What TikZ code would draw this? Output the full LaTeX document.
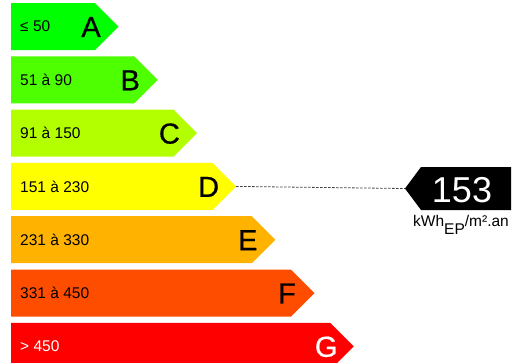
\documentclass[tikz,border=0pt]{standalone}
\usepackage{fontspec}
\setmainfont{Liberation Sans}
\newfontfamily\letterfont{Liberation Sans}[FakeBold=0.6]
\definecolor{cA}{RGB}{0,255,0}
\definecolor{cB}{RGB}{77,255,0}
\definecolor{cC}{RGB}{179,255,0}
\definecolor{cD}{RGB}{255,255,0}
\definecolor{cE}{RGB}{255,179,0}
\definecolor{cF}{RGB}{255,77,0}
\definecolor{cG}{RGB}{255,0,0}
\tikzset{
  rangelbl/.style={anchor=west, inner sep=0pt, font=\fontsize{15.5}{15.5}\selectfont},
  letterlbl/.style={anchor=center, inner sep=0pt, font=\letterfont\fontsize{29}{29}\selectfont},
  valuelbl/.style={anchor=center, inner sep=0pt, text=white, font=\fontsize{36}{36}\selectfont},
  unitlbl/.style={anchor=base west, inner sep=0pt, font=\fontsize{15.5}{15.5}\selectfont},
  leader/.style={draw=black!75, line width=0.8pt, dash pattern=on 2.5pt off 1.5pt}
}
\begin{document}
\begin{tikzpicture}[x=1pt,y=-1pt]
\useasboundingbox (0,0) rectangle (513,362);
\foreach \L/\i/\col/\range/\tc in {A/0/cA/{≤ 50}/black, B/1/cB/{51 à 90}/black, C/2/cC/{91 à 150}/black, D/3/cD/{151 à 230}/black, E/4/cE/{231 à 330}/black, F/5/cF/{331 à 450}/black, G/6/cG/{> 450}/white} {
  \pgfmathsetmacro\t{3+53.3*\i}
  \pgfmathsetmacro\r{95+39.2*\i}
  \fill[\col] (11,\t) -- (\r,\t) -- (\r+23.5,\t+23.5) -- (\r,\t+47) -- (11,\t+47) -- cycle;
  \coordinate (tip\L) at (\r+23.5,\t+23.5);
  \node[rangelbl,text=\tc] (range\L) at (20,\t+23.5) {\range};
  \node[letterlbl,text=\tc] (letter\L) at (\r-4,\t+24) {\L};
}
\fill[black] (405,188.5) -- (421,167) -- (511,167) -- (511,210) -- (421,210) -- cycle;
\coordinate (tipV) at (405,188.5);
\node[valuelbl] (value) at (462,190) {153};
\node[unitlbl] (unit) at (413,226) {kWh\raisebox{-8pt}{EP}/m².an};
\draw[leader] (tipD) -- (tipV);
\end{tikzpicture}
\end{document}
